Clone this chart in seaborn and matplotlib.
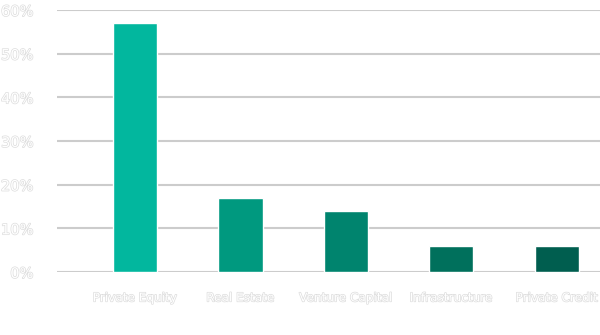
import matplotlib
matplotlib.use("Agg")
import matplotlib.pyplot as plt
import matplotlib.patheffects as pe
import seaborn as sns
import pandas as pd

categories = ["Private Equity", "Real Estate", "Venture Capital", "Infrastructure", "Private Credit"]
values = [57, 17, 14, 6, 6]
colors = ["#02B79E", "#00997F", "#00846E", "#00705C", "#005E4F"]
yticks = [0, 10, 20, 30, 40, 50, 60]
ytick_labels = ["0%", "10%", "20%", "30%", "40%", "50%", "60%"]

sns.set_theme(style="white")
plt.rcParams['font.family'] = ['DejaVu Sans']

df = pd.DataFrame({"cat": categories, "val": values})

fig = plt.figure(figsize=(6, 3.35), dpi=100)
ax = fig.add_axes([57/600, 1 - 272/335, 543/600, (272 - 10)/335])

sns.barplot(data=df, x="cat", y="val", hue="cat", palette=colors, width=0.42,
            legend=False, ax=ax, zorder=3, saturation=1)

ax.set_ylim(0, 60)
ax.set_xlim(-0.74, 4.41)
ax.set_yticks(yticks)
ax.set_yticklabels(ytick_labels)
ax.yaxis.grid(True, color="#cccccc", linewidth=1.5, zorder=0)
ax.set_axisbelow(True)
for s in ax.spines.values():
    s.set_visible(False)
ax.set_xlabel("")
ax.set_ylabel("")
ax.tick_params(axis="y", length=0, pad=17, labelsize=10.5)
ax.tick_params(axis="x", length=0, pad=14, labelsize=8.7)

effects = [pe.withStroke(linewidth=1.0, foreground="#dddddd")]
for lab in ax.get_yticklabels() + ax.get_xticklabels():
    lab.set_color("white")
    lab.set_path_effects(effects)

fig.savefig("out.png", dpi=100)
